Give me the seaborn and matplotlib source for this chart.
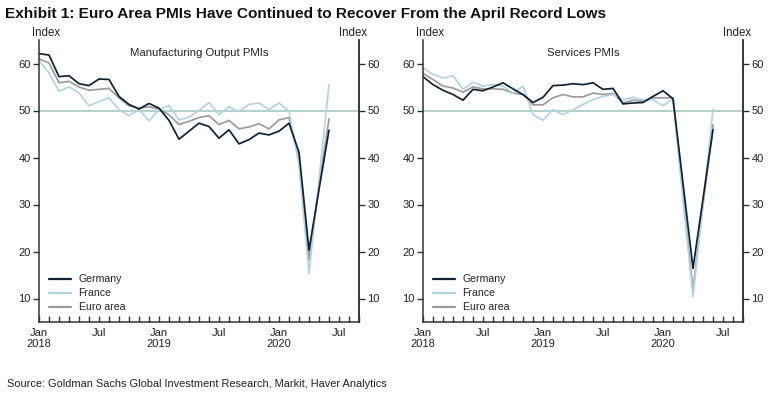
import pandas as pd
import matplotlib.pyplot as plt
import seaborn as sns
import numpy as np

# months Jan 2018 .. Jun 2020
months = pd.date_range("2018-01-01", "2020-06-01", freq="MS")
countries = ["Germany", "France", "Euro area"]

# Manufacturing output PMIs
mfg_germany = [62.1, 61.8, 57.2, 57.4, 55.7, 55.3, 56.7, 56.6, 53.0, 51.3, 50.3, 51.5,
               50.5, 47.9, 43.9, 45.6, 47.3, 46.6, 44.1, 45.9, 42.9, 43.8, 45.2, 44.8,
               45.6, 47.3, 41.1, 20.3, 33.2, 45.8]
mfg_france = [60.7, 58.0, 54.1, 55.0, 53.7, 51.0, 51.9, 52.7, 50.2, 48.9, 50.2, 47.8,
              50.2, 51.0, 48.0, 48.6, 50.0, 51.7, 49.1, 50.8, 49.8, 51.3, 51.6, 50.2,
              51.6, 49.8, 38.5, 15.3, 35.4, 55.5]
mfg_euro = [61.0, 60.1, 55.9, 56.2, 55.0, 54.3, 54.5, 54.7, 52.7, 51.0, 50.5, 50.8,
            50.3, 49.1, 47.0, 47.7, 48.5, 48.9, 47.0, 47.9, 46.1, 46.5, 47.2, 46.1,
            48.0, 48.5, 39.8, 18.2, 33.9, 48.2]

# Services PMIs
svc_germany = [57.2, 55.5, 54.3, 53.4, 52.2, 54.5, 54.2, 55.0, 55.9, 54.6, 53.4, 51.7,
               52.8, 55.3, 55.4, 55.7, 55.5, 55.9, 54.5, 54.7, 51.4, 51.6, 51.7, 53.0,
               54.2, 52.5, 34.5, 16.4, 31.2, 45.9]
svc_france = [59.1, 57.7, 56.9, 57.4, 54.5, 56.0, 55.2, 55.5, 55.2, 53.7, 55.2, 49.1,
              47.9, 50.2, 49.1, 50.2, 51.3, 52.3, 53.0, 53.4, 52.3, 52.8, 52.3, 52.3,
              51.0, 52.5, 31.0, 10.4, 30.3, 50.3]
svc_euro = [57.9, 56.6, 55.2, 54.8, 53.9, 55.0, 54.6, 54.6, 54.5, 53.7, 53.4, 51.2,
            51.2, 52.7, 53.4, 52.9, 52.9, 53.7, 53.4, 53.6, 51.6, 52.2, 52.0, 52.7,
            52.7, 52.7, 32.0, 11.8, 29.9, 47.0]

tick_labels = ["Jan\n2018", "Jul", "Jan\n2019", "Jul", "Jan\n2020", "Jul"]

colors = {"Germany": "#0f2233", "France": "#b3d3e4", "Euro area": "#9e9a9a"}


def make_df(g, f, e):
    d = pd.DataFrame({"month": np.arange(len(months)),
                      "Germany": g, "France": f, "Euro area": e})
    return d.melt(id_vars="month", var_name="country", value_name="pmi")


sns.set_style("white")
plt.rcParams['font.family'] = ['Liberation Sans', 'DejaVu Sans']
plt.rcParams['text.color'] = '#222222'

fig = plt.figure(figsize=(7.74, 3.95), dpi=100)
W, H = 774, 395
panels = [
    (39, "Manufacturing Output PMIs", make_df(mfg_germany, mfg_france, mfg_euro)),
    (423, "Services PMIs", make_df(svc_germany, svc_france, svc_euro)),
]

for left, title, df in panels:
    ax = fig.add_axes([left / W, 1 - 322 / H, 320 / W, 282 / H])
    # draw light lines first so Germany sits on top
    sns.lineplot(data=df, x="month", y="pmi", hue="country",
                 hue_order=["Euro area", "France", "Germany"], palette=colors,
                 linewidth=1.25, ax=ax, legend=False)
    ax.axhline(50, color="#9fc5bb", lw=1.1, zorder=0)
    ax.set_xlim(0, 32)
    ax.set_ylim(5, 65)
    ax.set_yticks([10, 20, 30, 40, 50, 60])
    ax.set_xticks([0, 6, 12, 18, 24, 30])
    ax.set_xticklabels(tick_labels)
    ax.set_xticks(np.arange(0, 33), minor=True)
    ax.set_xlabel("")
    ax.set_ylabel("")
    ax.tick_params(axis="x", which="both", bottom=True, direction="in", length=4,
                   width=1, color="#333333", labelsize=8, pad=4,
                   labelcolor="#222222")
    ax.tick_params(axis="y", left=True, direction="out", length=4, width=1,
                   color="#333333", labelsize=8, pad=2, labelcolor="#222222")
    for s in ["left", "right", "bottom"]:
        ax.spines[s].set_color("#333333")
        ax.spines[s].set_linewidth(1.1)
    ax.spines["top"].set_visible(False)

    ax2 = ax.twinx()
    ax2.set_ylim(5, 65)
    ax2.set_yticks([10, 20, 30, 40, 50, 60])
    ax2.tick_params(axis="y", right=True, direction="out", length=4, width=1,
                    color="#333333", labelsize=8, pad=2, labelcolor="#222222")
    ax2.spines["top"].set_visible(False)
    ax2.spines["left"].set_visible(False)
    ax2.spines["bottom"].set_visible(False)
    ax2.spines["right"].set_color("#333333")
    ax2.spines["right"].set_linewidth(1.1)

    ax.text(0.022, 1.005, "Index", transform=ax.transAxes, ha="center",
            va="bottom", fontsize=8.3)
    ax.text(0.98, 1.005, "Index", transform=ax.transAxes, ha="center",
            va="bottom", fontsize=8.3)
    ax.text(0.5, 0.955, title, transform=ax.transAxes, ha="center", va="center",
            fontsize=8.2)

    handles = [plt.Line2D([], [], color=colors[c], lw=1.6) for c in countries]
    ax.legend(handles, countries, loc="lower left", bbox_to_anchor=(0.0, 0.0),
              frameon=False, fontsize=7.6, handlelength=2.1, handletextpad=0.75,
              labelspacing=0.38, borderaxespad=0.5)

fig.text(5 / W, 1 - 14 / H, "Exhibit 1: Euro Area PMIs Have Continued to Recover From the April Record Lows",
         fontsize=11.1, fontweight="bold", ha="left", va="center", color="#111111")
fig.text(7 / W, 1 - 384 / H, "Source: Goldman Sachs Global Investment Research, Markit, Haver Analytics",
         fontsize=7.9, ha="left", va="center")

fig.savefig("out.png", dpi=100)
